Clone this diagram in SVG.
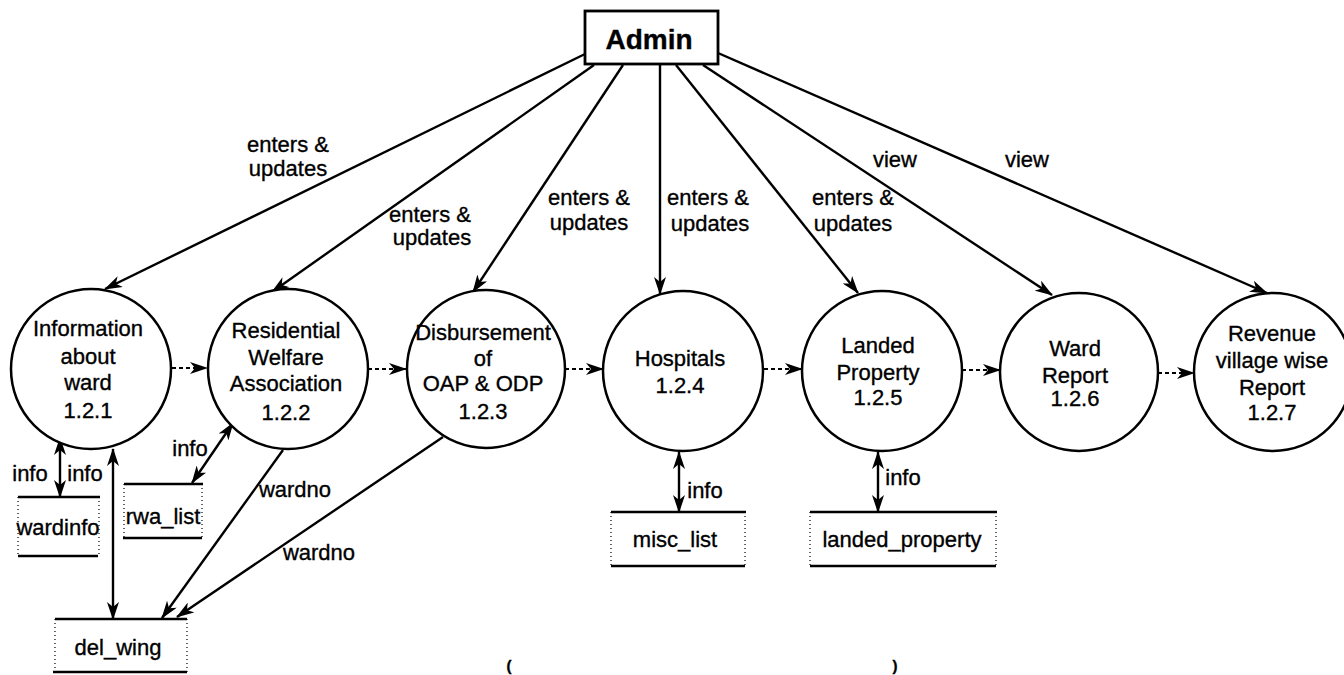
<svg xmlns="http://www.w3.org/2000/svg" width="1344" height="675" viewBox="0 0 1344 675">
<style>
text{font-family:"Liberation Sans",Arial,sans-serif;font-size:22px;fill:#000;text-anchor:middle;stroke:#000;stroke-width:0.35}
.bold{font-weight:bold;font-size:28px}
.proc{fill:#fff;stroke:#000;stroke-width:2.5}
.flow{fill:none;stroke:#000;stroke-width:2.4}
.dash{fill:none;stroke:#000;stroke-width:1.8;stroke-dasharray:4 3}
.storeline{stroke:#000;stroke-width:2.6}
.storeside{stroke:#000;stroke-width:1.2;stroke-dasharray:1 3}
.paren{font-size:15px;font-weight:bold}
</style>
<defs>
<marker id="ah" viewBox="0 0 18 12" refX="17" refY="6" markerWidth="18" markerHeight="12" markerUnits="userSpaceOnUse" orient="auto-start-reverse">
<path d="M0,0 L18,6 L0,12 L5,6 Z" fill="#000"/>
</marker>
</defs>
<rect width="1344" height="675" fill="#fff"/>

<g id="connectors">
<line class="flow" x1="585" y1="54" x2="105" y2="289" marker-end="url(#ah)"/>
<line class="flow" x1="594" y1="65" x2="272" y2="292" marker-end="url(#ah)"/>
<line class="flow" x1="623" y1="65" x2="473" y2="292" marker-end="url(#ah)"/>
<line class="flow" x1="660" y1="64" x2="660" y2="294" marker-end="url(#ah)"/>
<line class="flow" x1="676" y1="65" x2="858" y2="293" marker-end="url(#ah)"/>
<line class="flow" x1="703" y1="65" x2="1052" y2="295" marker-end="url(#ah)"/>
<line class="flow" x1="718" y1="53" x2="1267" y2="293" marker-end="url(#ah)"/>

<line class="dash" x1="172" y1="368" x2="207" y2="368" marker-end="url(#ah)"/>
<line class="dash" x1="368" y1="369" x2="406" y2="369" marker-end="url(#ah)"/>
<line class="dash" x1="565" y1="369" x2="603" y2="369" marker-end="url(#ah)"/>
<line class="dash" x1="764" y1="369" x2="802" y2="369" marker-end="url(#ah)"/>
<line class="dash" x1="962" y1="370" x2="1000" y2="370" marker-end="url(#ah)"/>
<line class="dash" x1="1158" y1="373" x2="1194" y2="373" marker-end="url(#ah)"/>

<line class="flow" x1="60" y1="438" x2="60" y2="497" marker-start="url(#ah)" marker-end="url(#ah)"/>
<line class="flow" x1="113" y1="449" x2="113" y2="619" marker-start="url(#ah)" marker-end="url(#ah)"/>
<line class="flow" x1="233" y1="423" x2="192" y2="483" marker-start="url(#ah)" marker-end="url(#ah)"/>
<line class="flow" x1="679" y1="452" x2="679" y2="512" marker-start="url(#ah)" marker-end="url(#ah)"/>
<line class="flow" x1="878" y1="452" x2="878" y2="512" marker-start="url(#ah)" marker-end="url(#ah)"/>
<line class="flow" x1="283" y1="450" x2="162" y2="618" marker-end="url(#ah)"/>
<line class="flow" x1="443" y1="437" x2="177" y2="617" marker-end="url(#ah)"/>

<text x="288" y="152">enters &amp;</text>
<text x="288" y="176">updates</text>
<text x="430" y="222">enters &amp;</text>
<text x="432" y="245">updates</text>
<text x="589" y="205">enters &amp;</text>
<text x="589" y="230">updates</text>
<text x="708" y="205">enters &amp;</text>
<text x="710" y="231">updates</text>
<text x="853" y="205">enters &amp;</text>
<text x="853" y="231">updates</text>
<text x="895" y="167">view</text>
<text x="1027" y="167">view</text>
<text x="30" y="481">info</text>
<text x="85" y="481">info</text>
<text x="190" y="456">info</text>
<text x="705" y="498">info</text>
<text x="903" y="485">info</text>
<text x="295" y="497">wardno</text>
<text x="319" y="560">wardno</text>
</g>

<g id="admin">
<rect x="585" y="11" width="133" height="53" fill="#fff" stroke="#000" stroke-width="2.8"/>
<text class="bold" x="649" y="49">Admin</text>
</g>

<g id="p121">
<circle class="proc" cx="91" cy="369" r="80"/>
<text x="88" y="336">Information</text>
<text x="88" y="364">about</text>
<text x="88" y="390">ward</text>
<text x="88" y="418">1.2.1</text>
</g>
<g id="p122">
<circle class="proc" cx="288" cy="369" r="80"/>
<text x="286" y="338">Residential</text>
<text x="286" y="365">Welfare</text>
<text x="286" y="391">Association</text>
<text x="286" y="420">1.2.2</text>
</g>
<g id="p123">
<circle class="proc" cx="486" cy="369" r="79"/>
<text x="483" y="340">Disbursement</text>
<text x="483" y="366">of</text>
<text x="483" y="391">OAP &amp; ODP</text>
<text x="483" y="419">1.2.3</text>
</g>
<g id="p124">
<circle class="proc" cx="683" cy="371" r="80"/>
<text x="680" y="366">Hospitals</text>
<text x="680" y="393">1.2.4</text>
</g>
<g id="p125">
<circle class="proc" cx="882" cy="371" r="80"/>
<text x="878" y="353">Landed</text>
<text x="878" y="380">Property</text>
<text x="878" y="405">1.2.5</text>
</g>
<g id="p126">
<circle class="proc" cx="1079" cy="372" r="79"/>
<text x="1075" y="356">Ward</text>
<text x="1075" y="383">Report</text>
<text x="1075" y="406">1.2.6</text>
</g>
<g id="p127">
<circle class="proc" cx="1273" cy="372" r="79"/>
<text x="1272" y="341">Revenue</text>
<text x="1272" y="368">village wise</text>
<text x="1272" y="395">Report</text>
<text x="1272" y="420">1.2.7</text>
</g>

<g id="wardinfo">
<line class="storeline" x1="18" y1="497" x2="100" y2="497"/>
<line class="storeline" x1="18" y1="556" x2="98" y2="556"/>
<line class="storeside" x1="18" y1="497" x2="18" y2="556"/>
<line class="storeside" x1="99" y1="497" x2="99" y2="556"/>
<text x="58" y="535">wardinfo</text>
</g>
<g id="rwa_list">
<line class="storeline" x1="124" y1="484" x2="203" y2="484"/>
<line class="storeline" x1="123" y1="538" x2="202" y2="538"/>
<line class="storeside" x1="124" y1="484" x2="124" y2="538"/>
<line class="storeside" x1="202" y1="484" x2="202" y2="538"/>
<text x="163" y="524">rwa_list</text>
</g>
<g id="del_wing">
<line class="storeline" x1="55" y1="619" x2="187" y2="619"/>
<line class="storeline" x1="53" y1="672" x2="187" y2="672"/>
<line class="storeside" x1="55" y1="619" x2="55" y2="672"/>
<line class="storeside" x1="187" y1="619" x2="187" y2="672"/>
<text x="118" y="655">del_wing</text>
</g>
<g id="misc_list">
<line class="storeline" x1="611" y1="512" x2="746" y2="512"/>
<line class="storeline" x1="611" y1="566" x2="745" y2="566"/>
<line class="storeside" x1="611" y1="512" x2="611" y2="566"/>
<line class="storeside" x1="745" y1="512" x2="745" y2="566"/>
<text x="675" y="547">misc_list</text>
</g>
<g id="landed_property">
<line class="storeline" x1="810" y1="512" x2="997" y2="512"/>
<line class="storeline" x1="810" y1="566" x2="996" y2="566"/>
<line class="storeside" x1="810" y1="512" x2="810" y2="566"/>
<line class="storeside" x1="996" y1="512" x2="996" y2="566"/>
<text x="902" y="547">landed_property</text>
</g>

<text class="paren" x="509" y="671">(</text>
<text class="paren" x="895" y="671">)</text>
</svg>
